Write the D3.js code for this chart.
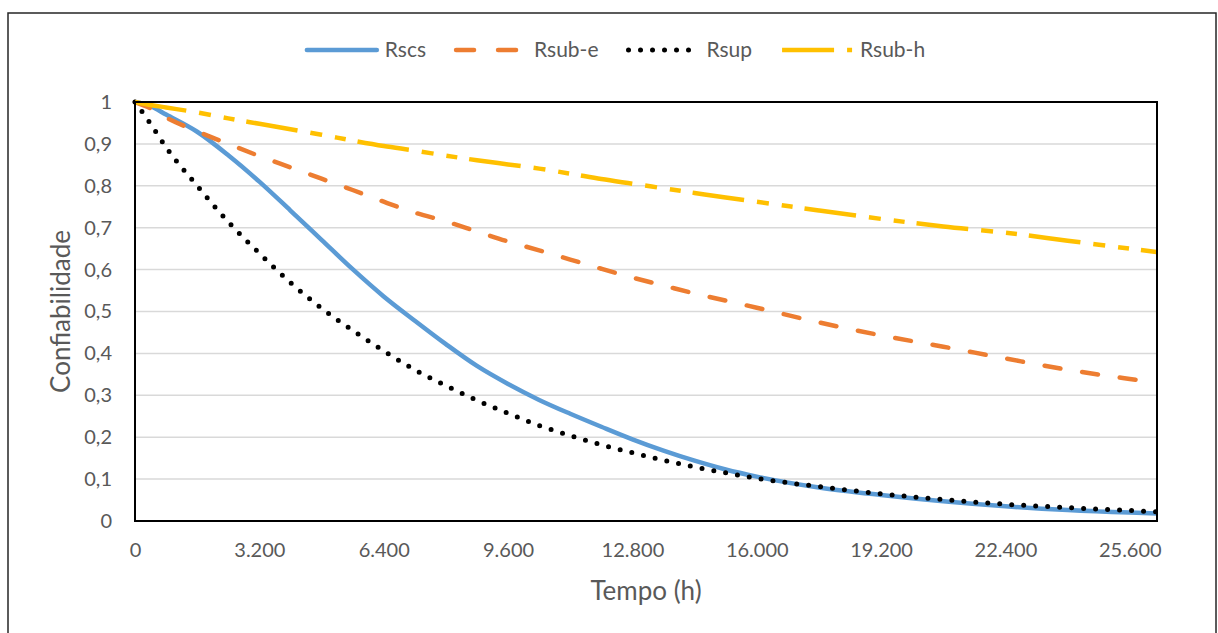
<!DOCTYPE html>
<html>
<head>
<meta charset="utf-8">
<script src="https://cdn.jsdelivr.net/npm/d3@7"></script>
<style>
  body { margin: 0; background: #fff; }
  text { font-family: Lato, "Open Sans", sans-serif; fill: #595959; }
</style>
</head>
<body>
<div id="chart"></div>
<script>
// hours
var tempo = [0, 400, 800, 1600, 2400, 3200, 4000, 4800, 5600, 6400, 7200, 8000, 8800, 9600,
             10400, 11200, 12000, 12800, 13600, 14400, 15200, 16000, 17600, 19200, 20800,
             22400, 24000, 25600, 26300];

var rscs  = [1, 0.99, 0.970, 0.929, 0.873, 0.810, 0.741, 0.671, 0.601, 0.536, 0.478, 0.422, 0.370, 0.327,
             0.289, 0.256, 0.225, 0.195, 0.168, 0.144, 0.123, 0.106, 0.080, 0.062, 0.047,
             0.035, 0.026, 0.020, 0.018];
var rsubE = [1, 0.985, 0.963, 0.930, 0.900, 0.871, 0.844, 0.817, 0.790, 0.762, 0.736, 0.715, 0.691, 0.667,
             0.646, 0.624, 0.602, 0.581, 0.562, 0.543, 0.526, 0.509, 0.474, 0.443, 0.416,
             0.388, 0.361, 0.339, 0.330];
var rsup  = [1, 0.948, 0.892, 0.800, 0.714, 0.639, 0.569, 0.508, 0.455, 0.406, 0.361, 0.323, 0.288, 0.257,
             0.228, 0.204, 0.182, 0.163, 0.145, 0.129, 0.115, 0.102, 0.082, 0.065, 0.051,
             0.040, 0.032, 0.025, 0.022];
var rsubH = [1, 0.993, 0.987, 0.975, 0.961, 0.948, 0.935, 0.922, 0.908, 0.895, 0.884, 0.872, 0.861, 0.851,
             0.841, 0.829, 0.816, 0.805, 0.794, 0.783, 0.772, 0.762, 0.741, 0.721, 0.703,
             0.688, 0.669, 0.650, 0.642];

var xTicks = [0, 3200, 6400, 9600, 12800, 16000, 19200, 22400, 25600];
var yTicks = [0, 0.1, 0.2, 0.3, 0.4, 0.5, 0.6, 0.7, 0.8, 0.9, 1];

var series = [
  {name: "Rscs",   values: rscs,  color: "#5b9bd5", dash: null,                     cap: "round"},
  {name: "Rsub-e", values: rsubE, color: "#ed7d31", dash: "16,22",                  cap: "round"},
  {name: "Rsup",   values: rsup,  color: "#000000", dash: "0,12",                   cap: "round"},
  {name: "Rsub-h", values: rsubH, color: "#ffc000", dash: "52,13,12,13,11,12",      cap: "butt"}
];

var svgWidth = 1218, svgHeight = 633;
var plot = {left: 135, right: 1157, top: 102, bottom: 521};

var svg = d3.select("#chart").append("svg")
  .attr("width", svgWidth)
  .attr("height", svgHeight);

// outer chart border
svg.append("rect")
  .attr("x", 8).attr("y", 13)
  .attr("width", 1208).attr("height", 640)
  .attr("fill", "none")
  .attr("stroke", "#262626")
  .attr("stroke-width", 1.5);

var xScale = d3.scaleLinear().domain([0, 26300]).range([plot.left, plot.right]);
var yScale = d3.scaleLinear().domain([0, 1]).range([plot.bottom, plot.top]);

var pt = d3.formatLocale({decimal: ",", thousands: ".", grouping: [3], currency: ["", ""]});
var fmtX = pt.format(",");
var fmtY = function(d) { return d === 0 || d === 1 ? String(d) : pt.format(".1f")(d); };

// gridlines
svg.append("g")
  .selectAll("line")
  .data(yTicks.slice(1, -1))
  .enter()
  .append("line")
  .attr("x1", plot.left).attr("x2", plot.right)
  .attr("y1", d => yScale(d)).attr("y2", d => yScale(d))
  .attr("stroke", "#d9d9d9")
  .attr("stroke-width", 1.5);

// axes (labels only)
var yAxis = d3.axisLeft(yScale).tickValues(yTicks).tickFormat(fmtY).tickSize(0).tickPadding(23);
var xAxis = d3.axisBottom(xScale).tickValues(xTicks).tickFormat(fmtX).tickSize(0).tickPadding(22);

var gy = svg.append("g").attr("transform", `translate(${plot.left}, 0)`).call(yAxis);
var gx = svg.append("g").attr("transform", `translate(0, ${plot.bottom})`).call(xAxis);
[gx, gy].forEach(function(g) {
  g.select(".domain").remove();
  g.selectAll("text").attr("font-size", 20).attr("fill", "#595959")
    .style("font-family", "Lato, 'Open Sans', sans-serif");
});

// series lines
var line = d3.line()
  .x((d, i) => xScale(tempo[i]))
  .y(d => yScale(d))
  .curve(d3.curveMonotoneX);

svg.append("defs").append("clipPath").attr("id", "clip")
  .append("rect")
  .attr("x", plot.left - 3).attr("y", plot.top - 3)
  .attr("width", plot.right - plot.left + 3).attr("height", plot.bottom - plot.top + 6);

var lines = svg.append("g").attr("clip-path", "url(#clip)");
series.forEach(function(s) {
  lines.append("path")
    .datum(s.values)
    .attr("d", line)
    .attr("fill", "none")
    .attr("stroke", s.color)
    .attr("stroke-width", s.name === "Rsup" ? 5 : 4.5)
    .attr("stroke-linecap", s.cap)
    .attr("stroke-linejoin", "round")
    .attr("stroke-dasharray", s.dash);
});

// plot frame
svg.append("rect")
  .attr("x", plot.left).attr("y", plot.top)
  .attr("width", plot.right - plot.left).attr("height", plot.bottom - plot.top)
  .attr("fill", "none")
  .attr("stroke", "#000")
  .attr("stroke-width", 2);

// axis titles
svg.append("text")
  .attr("transform", `translate(70, ${(plot.top + plot.bottom) / 2}) rotate(-90)`)
  .attr("text-anchor", "middle")
  .attr("font-size", 26)
  .text("Confiabilidade");

svg.append("text")
  .attr("x", 646).attr("y", 600)
  .attr("text-anchor", "middle")
  .attr("font-size", 26)
  .text("Tempo (h)");

// legend
var legend = svg.append("g");
var items = legend.selectAll("g")
  .data(series)
  .enter()
  .append("g");

items.append("line")
  .attr("x1", 0).attr("x2", 70)
  .attr("y1", 50).attr("y2", 50)
  .attr("stroke", d => d.color)
  .attr("stroke-width", d => d.name === "Rsup" ? 5 : 4.5)
  .attr("stroke-linecap", d => d.cap)
  .attr("stroke-dasharray", d => d.name === "Rsub-e" ? "18,24" : d.name === "Rsub-h" ? "52,13,12,100" : d.dash);

items.append("text")
  .attr("x", 78).attr("y", 57)
  .attr("font-size", 21)
  .text(d => d.name);

var xpos = 0, widths = [];
items.each(function() {
  var w = 78 + d3.select(this).select("text").node().getComputedTextLength();
  widths.push(w);
});
var total = d3.sum(widths) + 30 * (widths.length - 1);
xpos = 616 - total / 2;
items.attr("transform", function(d, i) {
  var x0 = xpos;
  xpos += widths[i] + 30;
  return `translate(${x0}, 0)`;
});
</script>
</body>
</html>
